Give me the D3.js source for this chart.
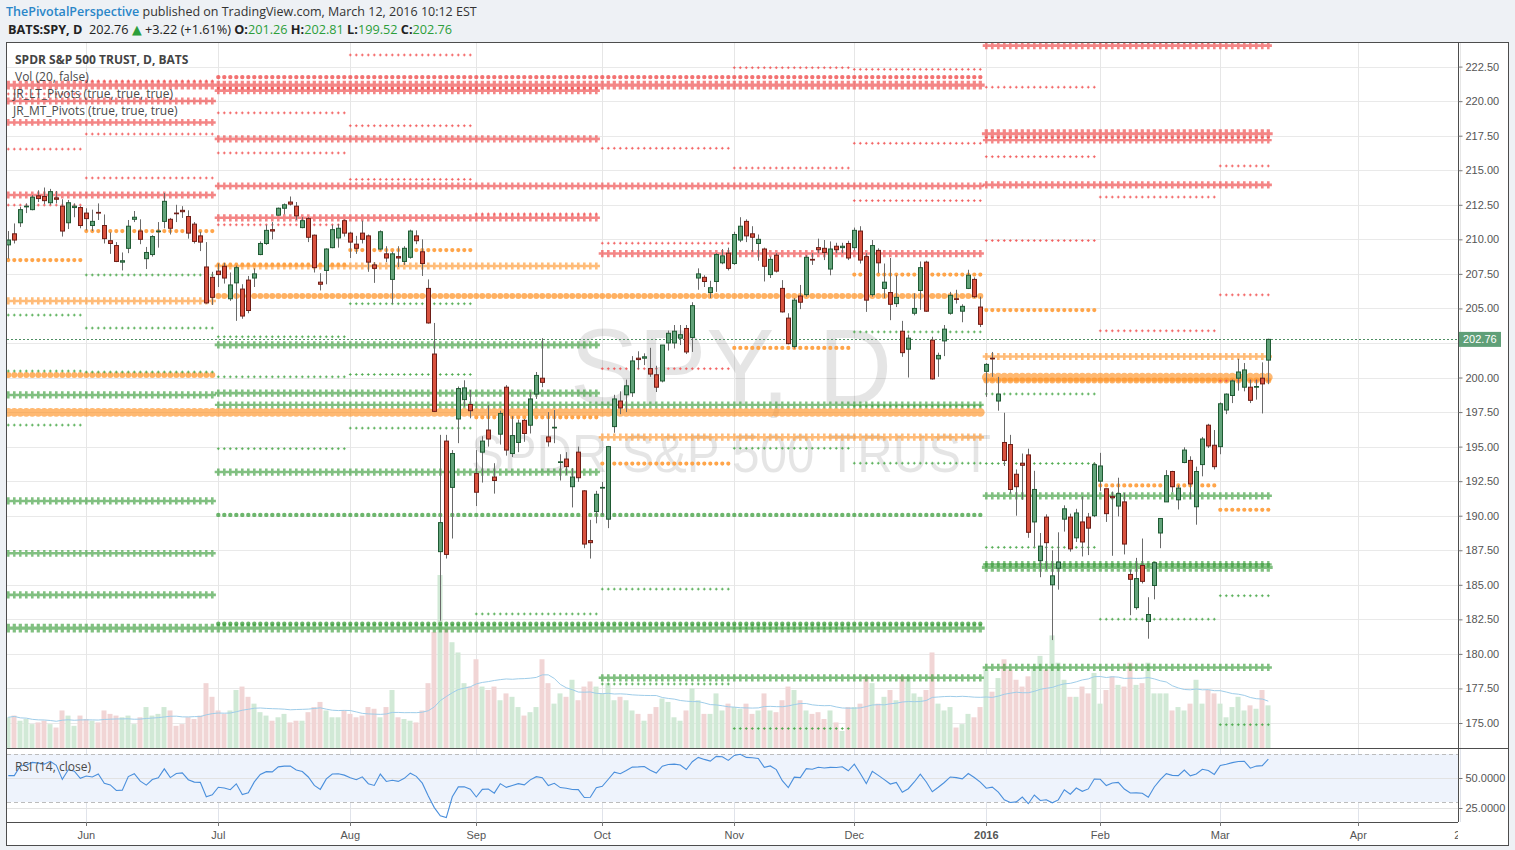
<!DOCTYPE html>
<html><head><meta charset="utf-8"><title>SPY D</title>
<script src="https://cdnjs.cloudflare.com/ajax/libs/d3/7.8.5/d3.min.js"></script>
<style>
html,body{margin:0;padding:0;background:#eef1f5;}
svg{display:block;}
</style></head><body>
<svg id="chart" width="1515" height="850"></svg>
<script>
// ================= DATA =================
const tradingDays = [
 ["2015-05",[12,13,14,15,18,19,20,21,22,26,27,28,29]],
 ["2015-06",[1,2,3,4,5,8,9,10,11,12,15,16,17,18,19,22,23,24,25,26,29,30]],
 ["2015-07",[1,2,6,7,8,9,10,13,14,15,16,17,20,21,22,23,24,27,28,29,30,31]],
 ["2015-08",[3,4,5,6,7,10,11,12,13,14,17,18,19,20,21,24,25,26,27,28,31]],
 ["2015-09",[1,2,3,4,8,9,10,11,14,15,16,17,18,21,22,23,24,25,28,29,30]],
 ["2015-10",[1,2,5,6,7,8,9,12,13,14,15,16,19,20,21,22,23,26,27,28,29,30]],
 ["2015-11",[2,3,4,5,6,9,10,11,12,13,16,17,18,19,20,23,24,25,27,30]],
 ["2015-12",[1,2,3,4,7,8,9,10,11,14,15,16,17,18,21,22,23,24,28,29,30,31]],
 ["2016-01",[4,5,6,7,8,11,12,13,14,15,19,20,21,22,25,26,27,28,29]],
 ["2016-02",[1,2,3,4,5,8,9,10,11,12,16,17,18,19,22,23,24,25,26,29]],
 ["2016-03",[1,2,3,4,7,8,9,10,11]]
];
const open = [209.6,210.4,211.2,212.35,212.15,213.15,213.1,212.65,213.0,212.4,211.2,212.3,212.3,
211.9,211.0,211.95,211.0,209.9,209.55,208.35,209.35,211.45,210.6,208.6,208.9,210.55,211.3,211.45,211.9,212.1,211.65,211.1,210.25,208.0,207.25,
207.7,208.05,205.7,206.85,206.4,207.05,207.2,208.9,209.7,210.7,211.75,212.25,212.7,212.4,210.85,211.5,210.3,206.9,207.75,209.4,210.1,211.35,
210.45,209.65,210.45,210.25,208.15,209.3,208.95,207.1,208.75,208.4,208.7,210.25,209.1,206.45,201.7,187.4,195.4,192.05,197.0,198.4,198.05,
193.05,194.6,196.2,192.8,195.9,199.3,194.5,195.3,196.9,196.55,198.8,199.95,195.7,196.35,193.85,194.1,192.1,194.6,191.8,188.2,190.3,
192.0,189.75,196.45,198.3,198.75,198.9,201.4,201.4,200.65,200.2,199.75,202.5,202.5,202.85,203.55,202.9,207.2,207.25,206.15,206.95,208.3,209.0,
208.25,209.95,211.3,210.4,209.7,209.3,207.45,208.85,206.45,204.3,202.25,205.9,206.0,208.55,209.4,209.35,207.85,209.5,209.4,209.7,
209.4,210.6,208.75,206.0,209.2,206.45,206.15,205.35,203.35,202.05,204.65,206.3,208.35,202.7,201.35,202.65,204.65,205.7,204.8,206.45,207.1,205.1,
200.45,201.4,198.3,195.3,195.15,193.0,193.8,194.4,189.55,186.75,189.9,185.0,186.2,189.75,189.9,188.4,189.55,189.9,190.0,
192.5,191.95,191.4,190.7,191.0,185.75,183.35,186.4,182.35,184.95,188.75,191.0,193.2,191.15,193.85,194.0,190.65,193.7,196.55,195.1,
195.0,197.65,198.7,199.95,199.3,199.3,199.3,199.95,201.26];
const high = [210.6,211.15,212.35,212.6,213.2,213.55,213.75,213.65,213.5,212.9,212.85,212.6,212.4,
212.25,212.15,212.6,211.8,210.5,209.8,209.05,211.4,212.05,211.45,209.45,210.3,211.25,213.35,211.55,212.5,212.4,212.1,211.25,210.55,209.8,207.65,
208.25,208.3,207.6,208.1,206.75,207.35,207.9,209.85,211.05,211.25,212.3,212.6,213.1,212.7,211.6,211.6,210.35,207.55,209.35,211.05,211.1,211.45,
210.55,210.25,211.35,210.35,208.35,210.65,209.5,209.1,209.5,209.5,210.7,210.65,210.0,207.1,203.95,195.85,195.85,194.75,199.35,199.8,199.1,
194.75,195.75,198.0,193.8,197.6,199.45,197.2,196.95,197.0,198.95,200.4,202.85,197.5,197.65,194.45,194.6,193.45,195.0,191.85,189.7,191.8,
192.45,195.05,198.75,199.0,199.85,201.55,201.9,201.75,202.15,200.85,202.35,203.4,203.8,203.8,203.8,205.45,207.9,207.4,207.0,209.0,209.3,209.4,
210.55,211.6,211.45,210.95,210.35,209.4,208.75,209.0,207.05,204.65,205.75,206.7,208.85,209.0,210.05,209.95,209.85,209.75,209.75,209.9,
210.85,210.95,209.0,209.95,209.35,208.25,208.65,207.4,204.1,203.1,206.1,208.4,208.45,202.95,201.8,203.8,206.2,206.35,205.3,207.8,207.25,205.85,
201.05,201.85,200.05,197.45,195.85,193.35,194.5,194.85,193.25,188.75,190.1,187.5,188.8,190.75,190.15,190.5,191.4,190.2,193.85,
194.55,191.95,191.75,192.75,191.65,186.1,186.95,188.35,184.1,186.65,189.8,193.3,193.25,192.2,194.95,194.3,193.55,195.7,196.65,196.2,
198.2,198.85,199.85,201.35,201.05,199.85,199.85,201.1,202.81];
const low = [208.6,209.7,210.9,211.9,212.1,212.7,212.55,212.5,212.6,210.2,210.75,211.6,210.8,
210.65,210.6,211.4,209.7,208.95,208.35,207.75,209.0,211.25,209.65,207.85,208.75,209.4,210.8,210.35,211.25,211.55,210.05,209.7,209.15,205.35,205.25,
206.55,206.8,205.55,204.1,204.25,204.65,206.55,208.85,209.6,210.0,211.7,211.8,212.45,211.4,210.8,209.8,207.6,206.3,206.75,209.35,209.4,210.2,
208.65,208.95,209.7,207.65,206.85,209.2,208.35,205.35,208.0,208.15,208.6,209.65,207.35,203.9,197.5,182.4,186.9,188.35,195.25,197.9,197.05,
190.7,192.4,195.0,191.6,195.15,194.35,194.25,194.6,195.35,195.95,198.45,199.3,195.0,195.25,192.55,192.95,190.6,192.45,187.65,186.9,189.45,
190.05,189.1,196.0,197.35,197.5,198.6,200.6,200.9,200.05,198.95,199.65,201.95,202.1,202.35,201.7,201.85,206.35,206.55,205.75,206.2,208.2,207.75,
208.15,209.8,209.8,209.1,208.45,206.95,207.2,207.6,204.7,202.4,202.1,204.95,205.85,208.15,209.0,208.5,207.4,209.0,209.0,208.5,
209.2,208.25,204.75,205.85,207.55,205.75,204.15,205.1,201.5,200.0,204.5,204.9,204.75,199.85,200.05,201.55,204.55,205.35,204.0,206.4,205.75,203.65,
198.6,200.05,197.6,193.6,191.6,190.0,191.15,188.4,187.75,185.55,186.1,181.0,184.65,188.85,187.4,188.1,187.05,187.15,189.9,
191.8,189.55,187.1,189.95,187.2,182.8,183.2,185.1,181.1,183.95,187.65,191.0,191.7,190.45,193.8,191.2,189.35,192.85,194.9,193.35,
194.45,197.35,198.15,199.05,199.0,198.15,198.4,197.4,199.52];
const close = [209.95,209.95,212.15,212.4,213.05,212.95,212.8,213.45,212.9,210.6,212.65,212.4,211.0,
211.5,211.3,211.9,210.05,209.7,208.4,208.45,210.95,211.6,210.0,209.05,210.2,210.6,212.75,210.8,211.85,212.0,210.45,209.85,209.8,205.4,205.8,
207.45,207.2,206.7,207.95,204.45,204.85,207.5,209.7,210.65,210.6,212.25,212.5,212.55,211.7,211.35,210.15,207.95,206.75,209.3,210.7,210.8,210.45,
209.8,209.35,210.0,208.35,207.9,210.55,208.65,208.95,208.65,209.35,210.6,209.9,208.25,203.95,197.55,189.5,187.2,194.5,199.2,199.25,197.6,
191.7,195.4,195.55,192.55,197.4,194.75,195.8,196.7,195.95,198.45,200.15,199.65,195.35,196.4,193.9,193.55,192.8,192.75,187.95,188.05,191.55,
192.05,195.0,198.45,197.8,199.4,201.2,201.3,201.5,200.25,199.3,202.35,203.2,203.35,203.1,201.85,205.2,207.5,206.95,206.5,208.9,208.8,207.9,
210.35,210.95,210.25,210.15,210.0,208.05,208.55,207.7,204.75,202.45,205.6,205.45,208.7,208.5,209.25,209.05,209.3,209.25,209.5,208.65,
210.65,208.5,205.6,209.55,208.3,206.9,205.3,205.8,201.8,202.85,205.0,207.95,204.8,199.9,201.6,203.5,205.95,205.65,205.15,207.4,205.85,203.85,
200.95,201.35,198.8,194.0,191.9,192.1,193.65,188.8,191.9,187.8,188.05,185.65,186.65,190.5,187.6,190.2,188.1,189.1,193.7,
193.6,190.15,191.3,191.6,187.95,185.4,185.45,185.25,182.85,186.6,189.8,192.9,192.1,192.0,194.75,192.3,193.2,195.55,195.05,193.55,
198.1,198.8,199.75,200.4,200.55,198.35,199.35,199.54,202.76];
// volume, millions of shares
const volume = [90,95,80,85,70,75,80,70,60,110,95,65,95,
85,80,75,110,100,95,90,95,70,90,120,95,100,120,110,65,70,90,85,95,190,150,
110,100,110,170,180,150,130,105,95,80,90,100,75,80,80,105,120,135,110,90,90,110,
100,90,95,120,115,90,120,170,90,85,80,75,110,190,340,507,350,310,280,190,180,
260,180,170,180,140,160,150,120,95,105,120,260,190,130,160,150,200,140,180,195,180,
160,190,140,150,140,110,100,80,100,120,145,135,90,80,110,175,140,100,100,160,110,130,
120,115,130,100,110,160,110,105,140,180,170,140,110,100,105,85,110,75,50,120,
120,130,210,190,130,150,170,140,210,210,160,150,170,280,130,110,120,60,70,100,90,120,
230,165,205,260,230,200,180,210,240,270,230,330,250,200,150,150,180,160,220,
130,170,210,185,180,250,185,190,250,160,160,160,110,120,110,130,200,130,170,160,
130,90,120,150,110,125,115,170,125];

const priceTicks = [175,177.5,180,182.5,185,187.5,190,192.5,195,197.5,200,202.5,205,207.5,210,212.5,215,217.5,220,222.5];
const timeTickDates  = ["2015-06-01","2015-07-01","2015-08-03","2015-09-01","2015-10-01","2015-11-02","2015-12-01","2016-01-04","2016-02-01","2016-03-01","2016-04-01","2016-04-25"];
const timeTickLabels = ["Jun","Jul","Aug","Sep","Oct","Nov","Dec","2016","Feb","Mar","Apr","25"];
const rsiTicks = [25,50];
const rsiBand = [30,70];
const rsiStart = 52;          // RSI value at the left edge

// pivot periods (M = monthly, Q = quarterly, H = half-year, Y = yearly)
const pivotPeriod = ["May15","Jun15","Jul15","Aug15","Sep15","Oct15","Nov15","Dec15","Jan16","Feb16","Mar16",
                     "Q2-15","Q3-15","Q4-15","Q1-16","H1-15","H2-15","H1-16","Y2015","Y2016"];
const pivotType   = ["M","M","M","M","M","M","M","M","M","M","M","Q","Q","Q","Q","H","H","H","Y","Y"];
const pivotFrom   = ["2015-05-12","2015-06-01","2015-07-01","2015-08-03","2015-09-01","2015-10-01","2015-11-02","2015-12-01","2016-01-04","2016-02-01","2016-03-01",
                     "2015-05-12","2015-07-01","2015-10-01","2016-01-04","2015-05-12","2015-07-01","2016-01-04","2015-05-12","2016-01-04"];
const pivotTo     = ["2015-05-29","2015-06-30","2015-07-31","2015-08-31","2015-09-30","2015-10-30","2015-11-30","2015-12-31","2016-01-29","2016-02-29","2016-03-11",
                     "2015-06-30","2015-09-30","2015-12-31","2016-03-11","2015-06-30","2015-12-31","2016-03-11","2015-12-31","2016-03-11"];
const pivotR3 = [220.52,221.46,219.15,223.34,null,216.59,null,222.3,221.01,224.25,215.31, null,220.76,null,null, null,null,null, null,null];
const pivotR2 = [216.53,217.62,216.25,218.22,null,209.72,222.42,216.95,215.98,213.06,205.98, 220.01,217.27,null,224.02, null,221.74,null, null,null];
const pivotR1 = [212.48,214.44,211.05,214.34,211.84,200.64,215.16,212.8,209.91,203.38,199.76, 213.21,211.56,208.97,213.94, 218.46,213.86,217.18, 221.16,217.64];
const pivotP  = [208.5,210.6,208.15,209.22,197.12,193.77,202.14,207.45,204.88,192.19,190.43, 205.54,208.07,195.68,201.52, 200.19,205.9,199.79, 197.48,200.02];
const pivotS1 = [204.52,207.42,202.95,205.34,182.89,184.69,194.88,203.3,198.81,182.51,184.21, 198.74,202.36,178.27,191.44, 187.28,198.02,186.48, 181.86,186.26];
const pivotS2 = [200.47,203.58,200.05,200.22,null,177.82,181.86,197.95,193.78,null,174.88, 191.07,198.87,null,179.02, null,190.06,null, null,null];
const pivotS3 = [196.56,200.4,194.85,196.34,null,null,174.6,193.8,187.71,null,null, 184.27,193.16,null,null, null,182.18,null, null,null];

// ================= LAYOUT =================
const svg = d3.select("#chart");
const L = 7, R = 1458, T = 43, B = 748, rT = 749, rB = 822, OB = 845, OR = 1508;
const N = close.length;
const dates = tradingDays.flatMap(([m, ds]) => ds.map(d => m + "-" + String(d).padStart(2, "0")));
const idx = d3.range(N);

const x = d3.scaleLinear().domain([0, N - 1]).range([8.3, 8.3 + 6 * (N - 1)]);
const y = d3.scaleLinear().domain([175, 222.5]).range([723, 66.6]);
const vy = d3.scaleLinear().domain([0, 507]).range([B, 575]);
const ry = d3.scaleLinear().domain([30, 70]).range([802, 754]);

function dateIndex(ds) {
  const k = dates.indexOf(ds);
  if (k >= 0) return k;
  // future dates: count weekdays after the last bar
  const last = new Date(dates[N - 1] + "T12:00:00");
  const dt = new Date(ds + "T12:00:00");
  const days = d3.timeDay.range(d3.timeDay.offset(last, 1), d3.timeDay.offset(dt, 1)).filter(d => d.getDay() > 0 && d.getDay() < 6);
  return N - 1 + days.length;
}

// background & frame
svg.append("rect").attr("width", 1515).attr("height", 850).attr("fill", "#eef1f5");
svg.append("rect").attr("x", 6.5).attr("y", 42.5).attr("width", OR - 6).attr("height", OB - 42).attr("fill", "#fff");

const defs = svg.append("defs");
defs.append("clipPath").attr("id", "main").append("rect").attr("x", L).attr("y", T).attr("width", R - L).attr("height", B - T);
defs.append("clipPath").attr("id", "rsi").append("rect").attr("x", L).attr("y", rT).attr("width", R - L).attr("height", rB - rT);
defs.append("clipPath").attr("id", "time").append("rect").attr("x", L).attr("y", rB).attr("width", R - L).attr("height", OB - rB);

const FONT = "'Liberation Sans', Arial, sans-serif";
const UI = "'Open Sans', 'DejaVu Sans', sans-serif";

// grid
const grid = svg.append("g");
const tickIdx = timeTickDates.map(dateIndex);
grid.selectAll(".gy").data(priceTicks).join("line")
  .attr("x1", L).attr("x2", R).attr("y1", d => Math.round(y(d)) + 0.5).attr("y2", d => Math.round(y(d)) + 0.5)
  .attr("stroke", "#e9e9e9");
grid.selectAll(".gx").data(tickIdx).join("line")
  .attr("x1", d => Math.round(x(d)) + 0.5).attr("x2", d => Math.round(x(d)) + 0.5)
  .attr("y1", T).attr("y2", rB).attr("stroke", "#e6e6e6");

// RSI band
svg.append("rect").attr("x", L).attr("width", R - L).attr("y", ry(rsiBand[1])).attr("height", ry(rsiBand[0]) - ry(rsiBand[1])).attr("fill", "#eef3fc");
svg.append("g").selectAll("line").data(rsiTicks).join("line")
  .attr("x1", L).attr("x2", R).attr("y1", d => Math.round(ry(d)) + 0.5).attr("y2", d => Math.round(ry(d)) + 0.5).attr("stroke", "#e2e2e2");
grid.selectAll(".gx2").data(tickIdx).join("line")
  .attr("x1", d => Math.round(x(d)) + 0.5).attr("x2", d => Math.round(x(d)) + 0.5)
  .attr("y1", rT).attr("y2", rB).attr("stroke", "#e0e3ea");
svg.append("g").selectAll("line").data(rsiBand).join("line")
  .attr("x1", L).attr("x2", R).attr("y1", d => Math.round(ry(d)) + 0.5).attr("y2", d => Math.round(ry(d)) + 0.5)
  .attr("stroke", "#bcbcbc").attr("stroke-dasharray", "4,3");

// watermark
const wm = svg.append("g").attr("clip-path", "url(#main)").attr("fill", "#000").attr("fill-opacity", 0.1).attr("font-family", FONT);
wm.append("text").attr("x", 731).attr("y", 404).attr("text-anchor", "middle").attr("font-size", 108)
  .attr("textLength", 322).attr("lengthAdjust", "spacingAndGlyphs").text("SPY, D");
wm.append("text").attr("x", 731).attr("y", 472).attr("text-anchor", "middle").attr("font-size", 54)
  .attr("textLength", 520).attr("lengthAdjust", "spacingAndGlyphs").text("SPDR S&P 500 TRUST");

const main = svg.append("g").attr("clip-path", "url(#main)");

// volume
const up = i => close[i] >= open[i];
main.append("g").selectAll("rect").data(idx).join("rect")
  .attr("x", i => Math.round(x(i)) - 2.5).attr("width", 5)
  .attr("y", i => vy(volume[i])).attr("height", i => B - vy(volume[i]))
  .attr("fill", i => up(i) ? "#d1e9d6" : "#f1d5d5");
const volMA = idx.map(i => d3.mean(volume.slice(Math.max(0, i - 19), i + 1)));
main.append("path").datum(idx).attr("fill", "none").attr("stroke", "#9fcde9").attr("stroke-width", 1)
  .attr("d", d3.line().x(i => x(i)).y(i => vy(volMA[i])));

// pivots
const levelNames = ["R3","R2","R1","P","S1","S2","S3"];
const levelArrays = [pivotR3,pivotR2,pivotR1,pivotP,pivotS1,pivotS2,pivotS3];
function pivotStyle(type, lvl) {
  const side = lvl === "P" ? "P" : lvl[0];
  const col = side === "R" ? "#ee3b3b" : side === "P" ? "#ff9326" : "#349a34";
  if (type === "M") {
    if (side === "P") return {shape: "circle", r: 2.1, color: "#ffa040", op: 0.95};
    return {shape: "cross", a: 1.4, sw: 1, color: side === "R" ? "#f25555" : "#4aa84a", op: 0.85};
  }
  if (type === "Q") return {shape: "cross", a: 3.6, sw: 2.6, color: col, op: 0.62};
  if (type === "H") {
    if (lvl === "P") return {shape: "circle", r: 3.0, color: col, op: 0.72};
    if (lvl === "R1" || lvl === "S1") return {shape: "cross", a: 3.4, sw: 2.4, color: col, op: 0.62};
    return {shape: "circle", r: 2.2, color: col, op: 0.72};
  }
  return lvl === "P" ? {shape: "circle", r: 4.4, color: col, op: 0.65} : {shape: "cross", a: 4.4, sw: 3.2, color: col, op: 0.62};
}
const pivG = main.append("g");
const order = ["Y","H","Q","M"];
const segs = [];
pivotPeriod.forEach((p, k) => {
  const i0 = dates.indexOf(pivotFrom[k]), i1 = dates.indexOf(pivotTo[k]);
  levelNames.forEach((lv, j) => {
    const v = levelArrays[j][k];
    if (v == null) return;
    segs.push({type: pivotType[k], lv, v, i0, i1});
  });
});
segs.sort((a, b) => order.indexOf(a.type) - order.indexOf(b.type));
segs.forEach(s => {
  const st = pivotStyle(s.type, s.lv);
  const yy = y(s.v);
  let d = "";
  for (let i = s.i0; i <= s.i1; i++) {
    const cx = x(i);
    if (st.shape === "cross") d += `M${cx - st.a},${yy}h${2 * st.a}M${cx},${yy - st.a}v${2 * st.a}`;
    else d += `M${cx - st.r},${yy}a${st.r},${st.r} 0 1,0 ${2 * st.r},0a${st.r},${st.r} 0 1,0 ${-2 * st.r},0`;
  }
  const path = pivG.append("path").attr("d", d).attr("opacity", st.op);
  if (st.shape === "cross") path.attr("fill", "none").attr("stroke", st.color).attr("stroke-width", st.sw);
  else path.attr("fill", st.color).attr("stroke", "none");
});

// last price line
const last = close[N - 1];
main.append("line").attr("x1", L).attr("x2", R).attr("y1", Math.round(y(last)) + 0.5).attr("y2", Math.round(y(last)) + 0.5)
  .attr("stroke", "#4f8f63").attr("stroke-dasharray", "2,2").attr("stroke-width", 1);

// candles
const cg = main.append("g");
cg.selectAll("line").data(idx).join("line")
  .attr("x1", i => Math.round(x(i)) + 0.5).attr("x2", i => Math.round(x(i)) + 0.5)
  .attr("y1", i => y(high[i])).attr("y2", i => y(low[i])).attr("stroke", "#6a6a6a").attr("stroke-width", 1);
cg.selectAll("rect").data(idx).join("rect")
  .attr("x", i => Math.round(x(i)) - 1.5).attr("width", 4)
  .attr("y", i => y(Math.max(open[i], close[i])))
  .attr("height", i => Math.max(0.6, Math.abs(y(open[i]) - y(close[i]))))
  .attr("fill", i => up(i) ? "#62a37a" : "#d9523f")
  .attr("stroke", i => up(i) ? "#1f5a33" : "#6e1d16").attr("stroke-width", 1);

// RSI (14, close) – Wilder smoothing
const rsiVals = [];
{
  let ag = 0.9 * rsiStart / 100, al = 0.9 * (100 - rsiStart) / 100;
  rsiVals.push(rsiStart);
  for (let i = 1; i < N; i++) {
    const ch = close[i] - close[i - 1];
    ag = (ag * 13 + Math.max(ch, 0)) / 14;
    al = (al * 13 + Math.max(-ch, 0)) / 14;
    rsiVals.push(100 - 100 / (1 + ag / al));
  }
}
svg.append("g").attr("clip-path", "url(#rsi)").append("path").datum(idx)
  .attr("fill", "none").attr("stroke", "#4a8fdc").attr("stroke-width", 1.1)
  .attr("d", d3.line().x(i => x(i)).y(i => ry(rsiVals[i])));

// frame lines
const fr = svg.append("g").attr("stroke", "#4d4d4d").attr("fill", "none");
fr.append("rect").attr("x", 6.5).attr("y", 42.5).attr("width", OR - 6).attr("height", OB - 42);
fr.append("line").attr("x1", R + 0.5).attr("x2", R + 0.5).attr("y1", 42).attr("y2", rB);
fr.append("line").attr("x1", 6).attr("x2", OR).attr("y1", B + 0.5).attr("y2", B + 0.5);
fr.append("line").attr("x1", 6).attr("x2", R).attr("y1", rB + 0.5).attr("y2", rB + 0.5);

// price axis
const pAxis = svg.append("g").attr("transform", `translate(${R + 0.5},0)`)
  .call(d3.axisRight(y).tickValues(priceTicks.filter(t => Math.abs(y(t) - y(last)) > 9)).tickSize(4).tickPadding(3).tickFormat(d3.format(".2f")));
pAxis.select(".domain").remove();
pAxis.selectAll("line").attr("stroke", "#777");
pAxis.selectAll("text").attr("font-family", FONT).attr("font-size", 11).attr("fill", "#555");
// last price label
svg.append("rect").attr("x", R + 1).attr("y", y(last) - 7.5).attr("width", 42).attr("height", 15).attr("fill", "#5f9f78");
svg.append("text").attr("x", R + 5).attr("y", y(last) + 4).attr("font-family", FONT).attr("font-size", 11).attr("fill", "#fff")
  .text(d3.format(".2f")(last));

// RSI axis
const rAxis = svg.append("g").attr("transform", `translate(${R + 0.5},0)`)
  .call(d3.axisRight(ry).tickValues(rsiTicks).tickSize(4).tickPadding(3).tickFormat(d3.format(".4f")));
rAxis.select(".domain").remove();
rAxis.selectAll("line").attr("stroke", "#777");
rAxis.selectAll("text").attr("font-family", FONT).attr("font-size", 11).attr("fill", "#555");

// time axis
const tg = svg.append("g").attr("clip-path", "url(#time)");
tg.selectAll("line").data(tickIdx).join("line")
  .attr("x1", d => Math.round(x(d)) + 0.5).attr("x2", d => Math.round(x(d)) + 0.5)
  .attr("y1", rB).attr("y2", rB + 4).attr("stroke", "#777");
tg.selectAll("text").data(tickIdx).join("text")
  .attr("x", d => x(d)).attr("y", 839).attr("text-anchor", "middle")
  .attr("font-family", FONT).attr("font-size", 11).attr("fill", "#555")
  .attr("font-weight", (d, k) => timeTickLabels[k] === "2016" ? "bold" : "normal")
  .text((d, k) => timeTickLabels[k]);

// legends inside panes
const lg = svg.append("g").attr("font-family", UI).attr("fill", "#4a4a4a").attr("font-size", 12);
lg.append("text").attr("x", 15).attr("y", 64).attr("font-weight", "bold").attr("fill", "#444").text("SPDR S&P 500 TRUST, D, BATS");
lg.append("text").attr("x", 15).attr("y", 81).text("Vol (20, false)");
lg.append("text").attr("x", 13).attr("y", 98).text("JR_LT_Pivots (true, true, true)");
lg.append("text").attr("x", 13).attr("y", 115).text("JR_MT_Pivots (true, true, true)");
lg.append("text").attr("x", 15).attr("y", 771).text("RSI (14, close)");

// header
const h1 = svg.append("text").attr("x", 6).attr("y", 16).attr("font-family", UI).attr("font-size", 12.5);
h1.append("tspan").attr("fill", "#2a86c8").attr("font-weight", 600).text("ThePivotalPerspective");
h1.append("tspan").attr("fill", "#333").text(" published on TradingView.com, March 12, 2016 10:12 EST");
const chg = close[N - 1] - close[N - 2];
const h2 = svg.append("text").attr("x", 8).attr("y", 34).attr("font-family", UI).attr("font-size", 12.7).attr("fill", "#222");
h2.append("tspan").attr("font-weight", "bold").text("BATS:SPY, D");
h2.append("tspan").text("\u00a0 " + d3.format(".2f")(last) + " ");
h2.append("tspan").attr("fill", "#2c9e3a").text("\u25B2");
h2.append("tspan").text(" " + d3.format("+.2f")(chg) + " (" + d3.format("+.2%")(chg / close[N - 2]) + ") ");
[["O:", open[N - 1]], ["H:", high[N - 1]], ["L:", low[N - 1]], ["C:", close[N - 1]]].forEach(([k, v]) => {
  h2.append("tspan").attr("font-weight", "bold").text(" " + k);
  h2.append("tspan").attr("fill", "#2c9e3a").text(d3.format(".2f")(v));
});
</script>
</body></html>
